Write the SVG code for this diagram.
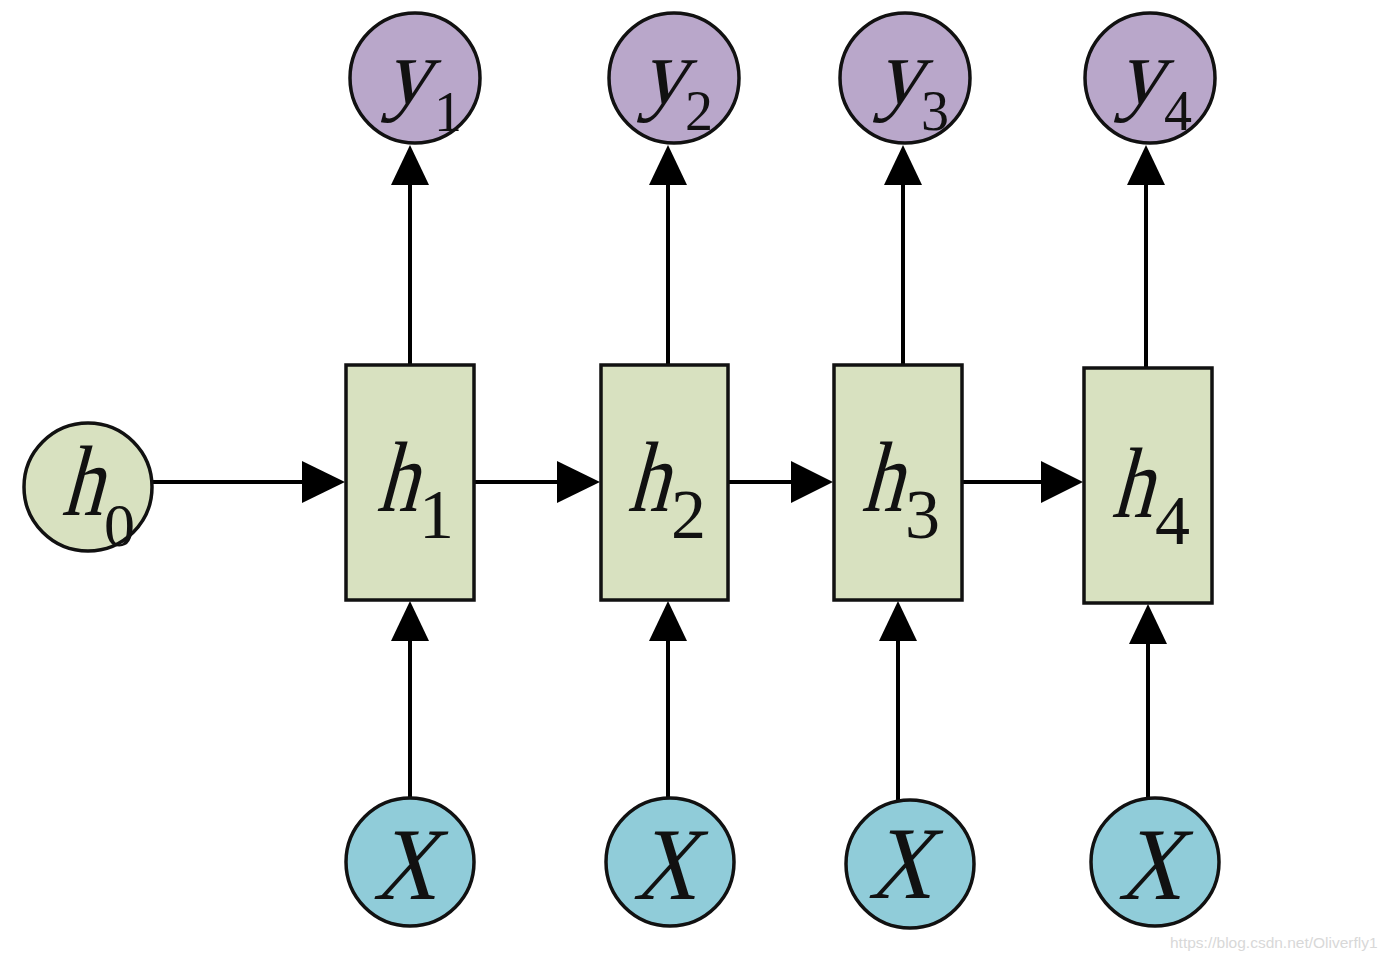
<svg xmlns="http://www.w3.org/2000/svg" width="1388" height="962" viewBox="0 0 1388 962">
<style>
.bg{fill:#ffffff}
.y{fill:#B9A7CA;stroke:#111;stroke-width:3.5}
.h{fill:#D8E1C0;stroke:#111;stroke-width:3.5}
.x{fill:#90CCD9;stroke:#111;stroke-width:3.5}
.ln{stroke:#000;stroke-width:4;fill:none}
.ah{fill:#000}
.it{font-family:"Liberation Serif","Times New Roman",serif;font-style:normal;fill:#111}
.sub{font-family:"Liberation Serif","Times New Roman",serif;fill:#111}
.wm{font-family:"Liberation Sans",Arial,sans-serif;font-size:15.5px;fill:#d8d8d8}
</style>
<rect class="bg" width="1388" height="962"/>
<g id="connectors">
  <line class="ln" x1="152" y1="482" x2="305" y2="482"/>
  <polygon class="ah" points="302,461 345,482 302,503"/>
  <line class="ln" x1="474" y1="482" x2="560" y2="482"/>
  <polygon class="ah" points="557,461 600,482 557,503"/>
  <line class="ln" x1="728" y1="482" x2="794" y2="482"/>
  <polygon class="ah" points="791,461 833,482 791,503"/>
  <line class="ln" x1="962" y1="482" x2="1044" y2="482"/>
  <polygon class="ah" points="1041,461 1083,482 1041,503"/>
  <line class="ln" x1="410" y1="365" x2="410" y2="180"/>
  <polygon class="ah" points="391,185 410,145 429,185"/>
  <line class="ln" x1="668" y1="365" x2="668" y2="180"/>
  <polygon class="ah" points="649,185 668,145 687,185"/>
  <line class="ln" x1="903" y1="365" x2="903" y2="180"/>
  <polygon class="ah" points="884,185 903,145 922,185"/>
  <line class="ln" x1="1146" y1="368" x2="1146" y2="180"/>
  <polygon class="ah" points="1127,185 1146,145 1165,185"/>
  <line class="ln" x1="410" y1="800" x2="410" y2="635"/>
  <polygon class="ah" points="391,641 410,601 429,641"/>
  <line class="ln" x1="668" y1="800" x2="668" y2="635"/>
  <polygon class="ah" points="649,641 668,601 687,641"/>
  <line class="ln" x1="898" y1="800" x2="898" y2="635"/>
  <polygon class="ah" points="879,641 898,601 917,641"/>
  <line class="ln" x1="1148" y1="800" x2="1148" y2="638"/>
  <polygon class="ah" points="1129,644 1148,604 1167,644"/>
</g>
<g id="h0">
  <circle class="h" cx="88" cy="487" r="64"/>
  <text class="it" transform="translate(61,515) skewX(-15) scale(0.82,1)" font-size="100">h</text>
  <text class="sub" x="104" y="546" font-size="62">0</text>
</g>
<g id="h1">
  <rect class="h" x="346" y="365" width="128" height="235"/>
  <text class="it" transform="translate(376,511) skewX(-15) scale(0.82,1)" font-size="100">h</text>
  <text class="sub" x="419" y="538" font-size="70">1</text>
</g>
<g id="h2">
  <rect class="h" x="601" y="365" width="127" height="235"/>
  <text class="it" transform="translate(627,511) skewX(-15) scale(0.82,1)" font-size="100">h</text>
  <text class="sub" x="671" y="538" font-size="70">2</text>
</g>
<g id="h3">
  <rect class="h" x="834" y="365" width="128" height="235"/>
  <text class="it" transform="translate(861,511) skewX(-15) scale(0.82,1)" font-size="100">h</text>
  <text class="sub" x="905" y="538" font-size="70">3</text>
</g>
<g id="h4">
  <rect class="h" x="1084" y="368" width="128" height="235"/>
  <text class="it" transform="translate(1111,517) skewX(-15) scale(0.82,1)" font-size="100">h</text>
  <text class="sub" x="1155" y="544" font-size="70">4</text>
</g>
<g id="y1">
  <circle class="y" cx="415" cy="78" r="65"/>
  <text class="it" transform="translate(384,103) skewX(-15)" font-size="93">y</text>
  <text class="sub" x="434" y="131" font-size="56">1</text>
</g>
<g id="y2">
  <circle class="y" cx="674" cy="78" r="65"/>
  <text class="it" transform="translate(640,103) skewX(-15)" font-size="93">y</text>
  <text class="sub" x="685" y="130" font-size="56">2</text>
</g>
<g id="y3">
  <circle class="y" cx="905" cy="78" r="65"/>
  <text class="it" transform="translate(876,103) skewX(-15)" font-size="93">y</text>
  <text class="sub" x="921" y="130" font-size="56">3</text>
</g>
<g id="y4">
  <circle class="y" cx="1150" cy="78" r="65"/>
  <text class="it" transform="translate(1117,103) skewX(-15)" font-size="93">y</text>
  <text class="sub" x="1164" y="130" font-size="56">4</text>
</g>
<g id="x1">
  <circle class="x" cx="410" cy="862" r="64"/>
  <text class="it" transform="translate(404,899) skewX(-15) scale(0.85,1)" font-size="103" text-anchor="middle">X</text>
</g>
<g id="x2">
  <circle class="x" cx="670" cy="862" r="64"/>
  <text class="it" transform="translate(664,899) skewX(-15) scale(0.85,1)" font-size="103" text-anchor="middle">X</text>
</g>
<g id="x3">
  <circle class="x" cx="910" cy="864" r="64"/>
  <text class="it" transform="translate(899,898) skewX(-15) scale(0.85,1)" font-size="103" text-anchor="middle">X</text>
</g>
<g id="x4">
  <circle class="x" cx="1155" cy="862" r="64"/>
  <text class="it" transform="translate(1149,899) skewX(-15) scale(0.85,1)" font-size="103" text-anchor="middle">X</text>
</g>
<text class="wm" x="1170" y="948">https://blog.csdn.net/Oliverfly1</text>
</svg>
